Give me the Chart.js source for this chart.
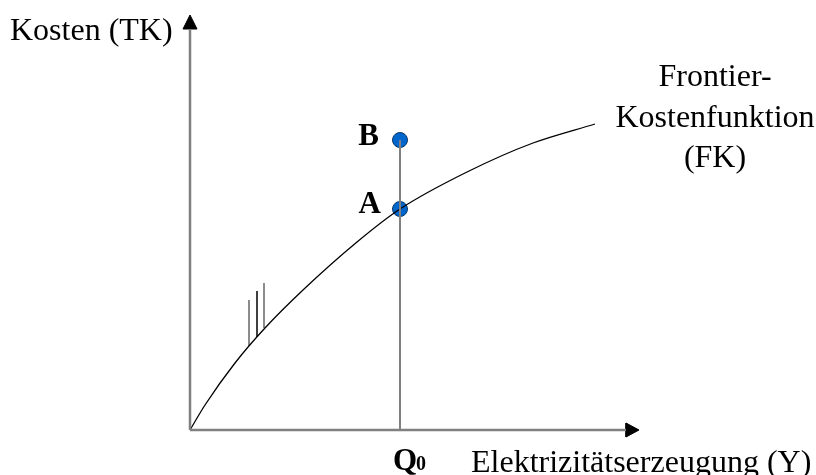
<!DOCTYPE html>
<html>
<head>
<meta charset="utf-8">
<script src="https://cdn.jsdelivr.net/npm/chart.js@4/dist/chart.umd.min.js"></script>
<style>
    body { margin: 0; background: #fff; }
    #wrap { width: 816px; height: 475px; }
</style>
</head>
<body>
<div id="wrap"><canvas id="chart" width="816" height="475"></canvas></div>
<script>
// frontier cost curve (x = output, y = cost)
const frontierX = [0, 15, 45, 75, 113, 167, 210, 277, 343, 405];
const frontierY = [0, 25, 67, 102, 140, 188, 221, 258, 287, 306];

// Q0 and the two firms
const q0 = 210;
const pointA = 221;
const pointB = 290;

// the three little strokes near the origin: [x, bottom, top]
const strokes = [[59, 84, 130], [67, 93, 139], [74, 102, 147]];
const strokeColors = ['#666666', '#000000', '#666666'];

const xMin = -10;
const xMax = 450;
const yMin = -10;
const yMax = 415;
const axisColor = '#808080';
const serif = '"Liberation Serif", "Times New Roman", serif';

const toPoints = (xs, ys) => xs.map((x, i) => ({ x: x, y: ys[i] }));

let datasets = [
    {
        // y axis
        data: [{ x: 0, y: 0 }, { x: 0, y: 401 }],
        borderColor: axisColor, borderWidth: 2.5, pointRadius: 0
    },
    {
        data: [{ x: 0, y: yMax }, { x: -7, y: 401 }, { x: 7, y: 401 }, { x: 0, y: yMax }],
        borderColor: '#000', backgroundColor: '#000', borderWidth: 1, pointRadius: 0, fill: 'shape'
    },
    {
        // x axis
        data: [{ x: 0, y: 0 }, { x: 436, y: 0 }],
        borderColor: axisColor, borderWidth: 2.5, pointRadius: 0
    },
    {
        data: [{ x: 449, y: 0 }, { x: 436, y: 7 }, { x: 436, y: -7 }, { x: 449, y: 0 }],
        borderColor: '#000', backgroundColor: '#000', borderWidth: 1, pointRadius: 0, fill: 'shape'
    },
    {
        // Q0 line
        data: [{ x: q0, y: 0 }, { x: q0, y: pointB }],
        borderColor: axisColor, borderWidth: 2, pointRadius: 0
    },
    {
        data: toPoints(frontierX, frontierY),
        borderColor: '#000', borderWidth: 1.3, pointRadius: 0,
        cubicInterpolationMode: 'monotone'
    }
];

strokes.forEach((s, i) => {
    datasets.push({
        data: [{ x: s[0], y: s[1] }, { x: s[0], y: s[2] }],
        borderColor: strokeColors[i], borderWidth: 1.5, pointRadius: 0
    });
});

datasets.push({
    data: [{ x: q0, y: pointA }, { x: q0, y: pointB }],
    showLine: false,
    pointRadius: 7.5,
    pointBackgroundColor: '#0066cc',
    pointBorderColor: '#0a3566',
    pointBorderWidth: 1
});

const labels = {
    id: 'labels',
    afterDraw(chart) {
        const ctx = chart.ctx;
        const xs = chart.scales.x;
        const ys = chart.scales.y;
        const px = xs.getPixelForValue(q0);
        ctx.save();
        ctx.fillStyle = '#000';
        ctx.textBaseline = 'alphabetic';

        ctx.font = `32px ${serif}`;
        ctx.textAlign = 'left';
        ctx.fillText('Kosten (TK)', 10, 40);
        ctx.fillText('Elektrizitätserzeugung (Y)', 471, 472);

        ctx.textAlign = 'center';
        ctx.fillText('Frontier-', 715, 86);
        ctx.fillText('Kostenfunktion', 715, 127);
        ctx.fillText('(FK)', 715, 167);

        ctx.font = `bold 31px ${serif}`;
        ctx.textAlign = 'right';
        ctx.fillText('B', px - 21, ys.getPixelForValue(pointB) + 5);
        ctx.fillText('A', px - 19, ys.getPixelForValue(pointA) + 4);

        ctx.textAlign = 'left';
        ctx.fillText('Q', px - 7, 470);
        ctx.font = `bold 20px ${serif}`;
        ctx.fillText('0', px + 16, 470);
        ctx.restore();
    }
};

new Chart(document.getElementById('chart'), {
    type: 'line',
    data: { datasets: datasets },
    options: {
        responsive: false,
        animation: false,
        events: [],
        layout: { padding: { left: 180, right: 176, top: 15, bottom: 35 } },
        plugins: { legend: { display: false }, tooltip: { enabled: false } },
        elements: { line: { tension: 0 } },
        scales: {
            x: { type: 'linear', min: xMin, max: xMax, display: false },
            y: { type: 'linear', min: yMin, max: yMax, display: false }
        },
        clip: false
    },
    plugins: [labels]
});
</script>
</body>
</html>
